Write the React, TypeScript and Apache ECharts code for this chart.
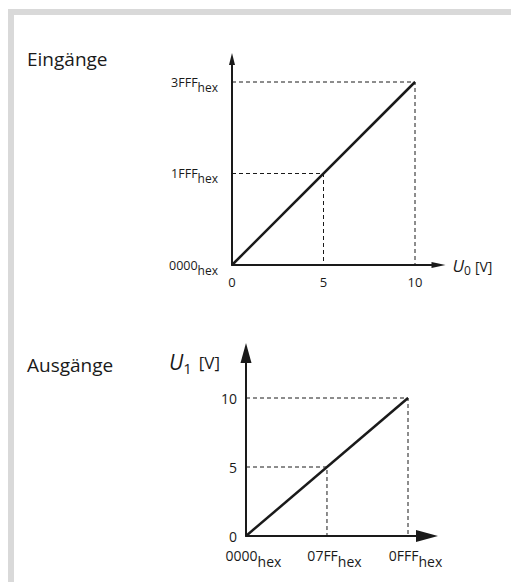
import React, { useEffect, useRef } from "react";
import * as echarts from "echarts";

// Eingänge (input) chart
const inXTicks = [0, 5, 10];
const inXLabels = ["0", "5", "10"];
const inYTicks = [0, 8191, 16383];
const inYLabels = ["0000", "1FFF", "3FFF"];
const inLine = [[0, 0], [10, 16383]];
const inGuideMid = [[0, 8191], [5, 8191], [5, 0]];
const inGuideMax = [[0, 16383], [10, 16383], [10, 0]];

// Ausgänge (output) chart
const outXTicks = [0, 2047, 4095];
const outXLabels = ["0000", "07FF", "0FFF"];
const outYTicks = [0, 5, 10];
const outYLabels = ["0", "5", "10"];
const outLine = [[0, 0], [4095, 10]];
const outGuideMid = [[0, 5], [2047, 5], [2047, 0]];
const outGuideMax = [[0, 10], [4095, 10], [4095, 0]];

const FONT = "'Open Sans', 'Noto Sans', sans-serif";
const INK = "#1a1a1a";

function hexLabel(ticks: number[], labels: string[]) {
  return (v: number) => {
    const i = ticks.indexOf(v);
    if (i < 0) return "";
    return `{m|${labels[i]}}{s|hex}`;
  };
}
function plainLabel(ticks: number[], labels: string[]) {
  return (v: number) => {
    const i = ticks.indexOf(v);
    return i < 0 ? "" : labels[i];
  };
}

export default function App() {
  const ref = useRef<HTMLDivElement>(null);
  useEffect(() => {
    if (!ref.current) return;
    const chart = echarts.init(ref.current, undefined, { renderer: "svg" });
    const dashed = { color: INK, width: 1, type: [4, 3] as any };
    const solid = { color: INK, width: 2.5 };
    const t = (o: any) => ({ color: INK, fontFamily: FONT, ...o });
    chart.setOption({
      animation: false,
      backgroundColor: "#fff",
      textStyle: { fontFamily: FONT, color: INK },
      graphic: [
        { type: "rect", shape: { x: 8, y: 9, width: 503, height: 6 }, style: { fill: "#d9d9d9" }, silent: true },
        { type: "rect", shape: { x: 8, y: 9, width: 6, height: 573 }, style: { fill: "#d9d9d9" }, silent: true },
        {
          type: "text", x: 27, y: 59,
          style: { text: "Eingänge", font: `19px ${FONT}`, fill: INK, verticalAlign: "middle" },
        },
        {
          type: "text", x: 27, y: 365,
          style: { text: "Ausgänge", font: `19px ${FONT}`, fill: INK, verticalAlign: "middle" },
        },
      ],
      grid: [
        { left: 232, top: 59, width: 206.5, height: 206, outerBoundsMode: "none", containLabel: false },
        { left: 246, top: 353, width: 181, height: 183, outerBoundsMode: "none", containLabel: false },
      ],
      xAxis: [
        {
          type: "value", gridIndex: 0, min: 0, max: (10 * 206.5) / 183,
          splitLine: { show: false }, axisTick: { show: false },
          axisLine: { show: true, symbol: ["none", "triangle"], symbolSize: [6, 14], lineStyle: { color: INK, width: 2 } },
          axisLabel: {
            customValues: inXTicks, formatter: plainLabel(inXTicks, inXLabels),
            fontSize: 13, color: INK, fontFamily: FONT, margin: 10,
          },
          name: "{u|U}{s|0}{v|[V]}", nameLocation: "end", nameGap: 14,
          nameTextStyle: {
            align: "left", verticalAlign: "middle",
            rich: {
              u: t({ fontSize: 17, fontStyle: "italic" }),
              s: t({ fontSize: 12, padding: [10, 0, 0, 0] }),
              v: t({ fontSize: 14, padding: [2, 0, 0, 4] }),
            },
          },
        },
        {
          type: "value", gridIndex: 1, min: 0, max: (4095 * 181) / 162,
          splitLine: { show: false }, axisTick: { show: false },
          axisLine: { show: true, symbol: ["none", "triangle"], symbolSize: [12, 22], lineStyle: { color: INK, width: 2 } },
          axisLabel: {
            customValues: outXTicks, formatter: hexLabel(outXTicks, outXLabels),
            color: INK, fontFamily: FONT, margin: 6.5, padding: [0, 0, 0, 15],
            rich: {
              m: t({ fontSize: 14 }),
              s: t({ fontSize: 14, padding: [12, 0, 0, 0] }),
            },
          },
        },
      ],
      yAxis: [
        {
          type: "value", gridIndex: 0, min: 0, max: (16383 * 206) / 183,
          splitLine: { show: false }, axisTick: { show: false },
          axisLine: { show: true, symbol: ["none", "triangle"], symbolSize: [6, 12], lineStyle: { color: INK, width: 2 } },
          axisLabel: {
            customValues: inYTicks, formatter: hexLabel(inYTicks, inYLabels),
            color: INK, fontFamily: FONT, margin: 14,
            rich: {
              m: t({ fontSize: 12.5 }),
              s: t({ fontSize: 12, padding: [10, 0, 0, 0] }),
            },
          },
        },
        {
          type: "value", gridIndex: 1, min: 0, max: (10 * 183) / 138,
          splitLine: { show: false }, axisTick: { show: false },
          axisLine: { show: true, symbol: ["none", "triangle"], symbolSize: [11, 20], lineStyle: { color: INK, width: 2 } },
          axisLabel: {
            customValues: outYTicks, formatter: plainLabel(outYTicks, outYLabels),
            fontSize: 14, color: INK, fontFamily: FONT, margin: 9,
          },
          name: "{u|U}{s|1}{v|[V]}", nameLocation: "end", nameGap: -9,
          nameTextStyle: {
            align: "right", verticalAlign: "middle", padding: [0, 26, 0, 0],
            rich: {
              u: t({ fontSize: 21, fontStyle: "italic" }),
              s: t({ fontSize: 15, padding: [12, 0, 0, 0] }),
              v: t({ fontSize: 17, padding: [0, 0, 0, 7] }),
            },
          },
        },
      ],
      series: [
        { type: "line", xAxisIndex: 0, yAxisIndex: 0, data: inGuideMid, symbol: "none", lineStyle: dashed, z: 2 },
        { type: "line", xAxisIndex: 0, yAxisIndex: 0, data: inGuideMax, symbol: "none", lineStyle: dashed, z: 2 },
        { type: "line", xAxisIndex: 0, yAxisIndex: 0, data: inLine, symbol: "none", lineStyle: solid, z: 3 },
        { type: "line", xAxisIndex: 1, yAxisIndex: 1, data: outGuideMid, symbol: "none", lineStyle: dashed, z: 2 },
        { type: "line", xAxisIndex: 1, yAxisIndex: 1, data: outGuideMax, symbol: "none", lineStyle: dashed, z: 2 },
        { type: "line", xAxisIndex: 1, yAxisIndex: 1, data: outLine, symbol: "none", lineStyle: solid, z: 3 },
      ],
    });
    return () => chart.dispose();
  }, []);
  return (
    <div
      ref={ref}
      style={{ position: "absolute", left: 0, top: 0, width: 511, height: 582 }}
    />
  );
}
